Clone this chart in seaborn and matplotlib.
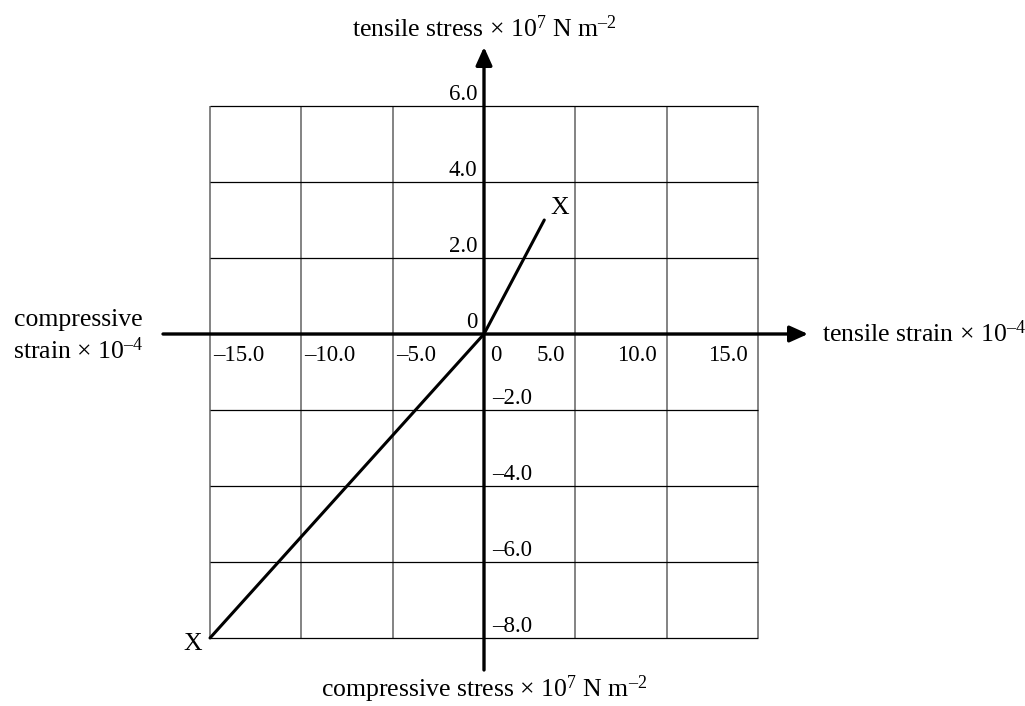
import matplotlib
matplotlib.use('Agg')
import matplotlib.pyplot as plt
import numpy as np
import pandas as pd
import seaborn as sns

# ---- data ----
strain = [-15.0, 0.0, 3.3]
stress = [-8.0, 0.0, 3.0]
x_ticks = [-15.0, -10.0, -5.0, 0.0, 5.0, 10.0, 15.0]
y_ticks = [6.0, 4.0, 2.0, 0.0, -2.0, -4.0, -6.0, -8.0]
x_tick_labels = ['–15.0', '–10.0', '–5.0', '0', '5.0', '10.0', '15.0']
y_tick_labels = ['6.0', '4.0', '2.0', '0', '–2.0', '–4.0', '–6.0', '–8.0']
end_label = 'X'
top_label = 'tensile stress × 10$^{7}$ N m$^{\\mathrm{–2}}$'
bottom_label = 'compressive stress × 10$^{7}$ N m$^{\\mathrm{–2}}$'
right_label = 'tensile strain × 10$^{\\mathrm{–4}}$'
left_label = 'compressive\nstrain × 10$^{\\mathrm{–4}}$'

# ---- style ----
sns.set_theme(style='white')
plt.rcParams['font.family'] = ['Liberation Serif', 'DejaVu Serif']
plt.rcParams['text.color'] = 'black'
plt.rcParams['mathtext.fontset'] = 'custom'
plt.rcParams['mathtext.rm'] = 'Liberation Serif'
plt.rcParams['mathtext.it'] = 'Liberation Serif:italic'
plt.rcParams['mathtext.bf'] = 'Liberation Serif:bold'

W, H = 1025, 706
fig = plt.figure(figsize=(W / 100, H / 100), dpi=100)
ax = fig.add_axes([0, 0, 1, 1])

# layout: pixels per unit and origin location
PX = 548 / 30.0
PY = 532 / 14.0
OX, OY = 484, 334

# axis extents (layout)
x_axis_start = (163 - OX) / PX
x_axis_end = (808 - OX) / PX
y_axis_start = -(670 - OY) / PY
y_axis_end = (OY - 47) / PY

# grid
ax.vlines(x_ticks, min(y_ticks), max(y_ticks), colors='#7a7a7a', lw=1.3, zorder=1)
ax.hlines(y_ticks, min(x_ticks), max(x_ticks), colors='black', lw=0.9, zorder=1)

# axes with arrows
arrow_kw = dict(arrowstyle='-|>,head_length=1.0,head_width=0.45', mutation_scale=11,
                lw=2.4, color='black', shrinkA=0, shrinkB=0)
ax.annotate('', xy=(x_axis_end, 0), xytext=(x_axis_start, 0), arrowprops=arrow_kw, zorder=3)
ax.annotate('', xy=(0, y_axis_end), xytext=(0, y_axis_start), arrowprops=arrow_kw, zorder=3)

# data line
df = pd.DataFrame({'strain': strain, 'stress': stress})
sns.lineplot(data=df, x='strain', y='stress', ax=ax, color='black', lw=2.2,
             sort=False, estimator=None, zorder=4)
ax.set_axis_off()
ax.set_xlim(-OX / PX, (W - OX) / PX)
ax.set_ylim(-(H - OY) / PY, OY / PY)

tick_fs = 16.5
label_fs = 18.5

for x, lab in zip(x_ticks, x_tick_labels):
    if x < 0:
        ha, dx = 'left', 3
    elif x == 0:
        ha, dx = 'left', 6
    else:
        ha, dx = 'right', -10
    ax.annotate(lab, xy=(x, 0), xytext=(dx, -27), textcoords='offset pixels',
                ha=ha, va='baseline', fontsize=tick_fs, color='black')

for y, lab in zip(y_ticks, y_tick_labels):
    if y >= 0:
        ha, dx = 'right', -7
    else:
        ha, dx = 'left', 8
    ax.annotate(lab, xy=(0, y), xytext=(dx, 6.5), textcoords='offset pixels',
                ha=ha, va='baseline', fontsize=tick_fs, color='black')

# end labels
ax.annotate(end_label, xy=(strain[-1], stress[-1]), xytext=(6, 6), textcoords='offset pixels',
            ha='left', va='baseline', fontsize=label_fs)
ax.annotate(end_label, xy=(strain[0], stress[0]), xytext=(-8, -12), textcoords='offset pixels',
            ha='right', va='baseline', fontsize=label_fs)

# axis titles
ax.annotate(top_label, xy=(0, y_axis_end), xytext=(0, 10), textcoords='offset pixels',
            ha='center', va='baseline', fontsize=label_fs)
ax.annotate(bottom_label, xy=(0, y_axis_start), xytext=(0, -27), textcoords='offset pixels',
            ha='center', va='baseline', fontsize=label_fs)
ax.annotate(right_label, xy=(x_axis_end, 0), xytext=(14, -8), textcoords='offset pixels',
            ha='left', va='baseline', fontsize=label_fs)
ax.annotate(left_label, xy=(x_axis_start, 0), xytext=(-20, -2), textcoords='offset pixels',
            ha='right', va='center', multialignment='right', fontsize=label_fs,
            linespacing=1.3)

fig.savefig('out.png', dpi=100, facecolor='white')
